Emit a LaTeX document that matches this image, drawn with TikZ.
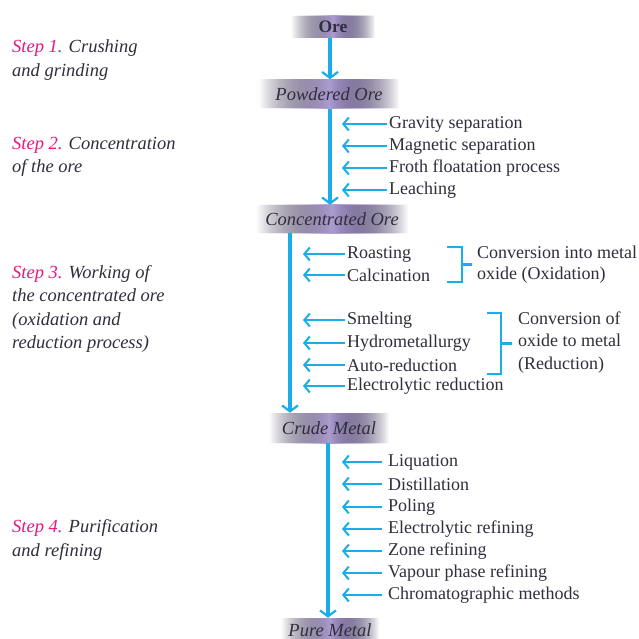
\documentclass[tikz,border=0pt]{standalone}
\usepackage{fontspec}
\setmainfont{Liberation Serif}
\usetikzlibrary{arrows.meta,fadings}
\definecolor{arrowc}{HTML}{1AADE8}
\definecolor{stepc}{HTML}{E6197E}
\definecolor{txtc}{HTML}{2F2F3D}
\definecolor{boxl}{HTML}{D3C8E7}
\definecolor{boxr}{HTML}{8670BA}
\tikzfading[name=hfade, left color=transparent!100, right color=transparent!100, middle color=transparent!0]
\begin{document}
\begin{tikzpicture}[x=1pt,y=-1pt,
  every node/.style={font=\fontsize{18}{20}\selectfont, text=txtc, inner sep=0pt},
  stage/.style={rectangle, minimum height=28pt, font=\fontsize{18.5}{20}\selectfont\itshape, text=txtc},
  item/.style={anchor=west},
  steptext/.style={anchor=west, align=left, font=\fontsize{18.5}{23.5}\selectfont\itshape},
  mainarr/.style={draw=arrowc, line width=3.2pt, -{Straight Barb[length=6pt,width=16pt,line width=2.2pt]}},
  sidearr/.style={draw=arrowc, line width=2.2pt, -{Straight Barb[length=5.5pt,width=13pt,line width=2pt]}},
  bracket/.style={draw=arrowc, line width=2.5pt}
]
\useasboundingbox (0,0) rectangle (639,639);
\fill[white] (0,0) rectangle (639,639);

% stage boxes (shaded backgrounds)
\newcommand{\stagebg}[4]{%
  \fill[left color=boxl, right color=boxr, path fading=hfade] (#1-#3/2,#2-#4/2) rectangle (#1+#3/2,#2+#4/2);}
\stagebg{333}{27}{84}{22}
\stagebg{329}{94}{140}{29}
\stagebg{332}{219}{152}{28}
\stagebg{329}{428}{120}{30}
\stagebg{330}{630}{98}{24}

\node[stage, minimum width=84pt, minimum height=22pt, font=\fontsize{17.5}{20}\selectfont\bfseries] (ore) at (333,27) {Ore};
\node[stage, minimum width=140pt, minimum height=29pt] (pow) at (329,94) {Powdered Ore};
\node[stage, minimum width=152pt] (conc) at (332,219) {Concentrated Ore};
\node[stage, minimum width=120pt, minimum height=30pt] (crude) at (329,428) {Crude Metal};
\node[stage, minimum width=98pt, minimum height=24pt] (pure) at (330,630) {Pure Metal};

% main arrows
\draw[mainarr] ([xshift=-3pt]ore.south) -- ([xshift=-3pt]ore.south |- pow.north);
\draw[mainarr] ([xshift=1pt]pow.south) -- ([xshift=1pt]pow.south |- conc.north);
\draw[mainarr] ([xshift=-42pt]conc.south) -- ([xshift=-42pt]conc.south |- crude.north);
\draw[mainarr] ([xshift=-1pt]crude.south) -- ([xshift=-1pt]crude.south |- pure.north);

% step labels
\node[steptext] (s1) at (12,60) {\textcolor{stepc}{Step 1.} Crushing\\and grinding};
\node[steptext] (s2) at (12,157) {\textcolor{stepc}{Step 2.} Concentration\\of the ore};
\node[steptext] (s3) at (12,309) {\textcolor{stepc}{Step 3.} Working of\\the concentrated ore\\(oxidation and\\reduction process)};
\node[steptext] (s4) at (12,540) {\textcolor{stepc}{Step 4.} Purification\\and refining};

% step 2 items
\node[item] (g1) at (389,124) {Gravity separation};
\node[item] (g2) at (389,146) {Magnetic separation};
\node[item] (g3) at (389,168) {Froth floatation process};
\node[item] (g4) at (389,190) {Leaching};
\foreach \n in {g1,g2,g3,g4} \draw[sidearr] ([xshift=-2pt]\n.west) -- ++(-45,0);

% step 3 items
\node[item] (r1) at (347,254) {Roasting};
\node[item] (r2) at (347,275) {Calcination};
\node[item] (r3) at (347,320) {Smelting};
\node[item] (r4) at (347,343) {Hydrometallurgy};
\node[item] (r5) at (347,365) {Auto-reduction};
\node[item] (r6) at (347,386) {Electrolytic reduction};
\foreach \n in {r1,r2,r3,r4,r5,r6} \draw[sidearr] ([xshift=-2pt]\n.west) -- ++(-42,0);

% brackets
\coordinate (b1t) at (447,247);
\coordinate (b1b) at (447,282);
\draw[bracket] (b1t) -- ++(15,0) -- ++(0,35) -- (b1b);
\draw[bracket] (462,264.5) -- (472,264.5);
\node[item, align=left, font=\fontsize{18}{21.5}\selectfont] (ox) at (477,264.5) {Conversion into metal\\oxide (Oxidation)};

\coordinate (b2t) at (487,313);
\coordinate (b2b) at (487,374);
\draw[bracket] (b2t) -- ++(14,0) -- ++(0,61) -- (b2b);
\draw[bracket] (501,343.5) -- (512,343.5);
\node[item, align=left, font=\fontsize{18}{22.5}\selectfont] (red) at (518,342.5) {Conversion of\\oxide to metal\\(Reduction)};

% step 4 items
\node[item] (p1) at (388,462) {Liquation};
\node[item] (p2) at (388,484) {Distillation};
\node[item] (p3) at (388,507) {Poling};
\node[item] (p4) at (388,529) {Electrolytic refining};
\node[item] (p5) at (388,551) {Zone refining};
\node[item] (p6) at (388,573) {Vapour phase refining};
\node[item] (p7) at (388,595) {Chromatographic methods};
\foreach \n in {p1,p2,p3,p4,p5,p6,p7} \draw[sidearr] ([xshift=-6pt]\n.west) -- ++(-40,0);
\end{tikzpicture}
\end{document}
